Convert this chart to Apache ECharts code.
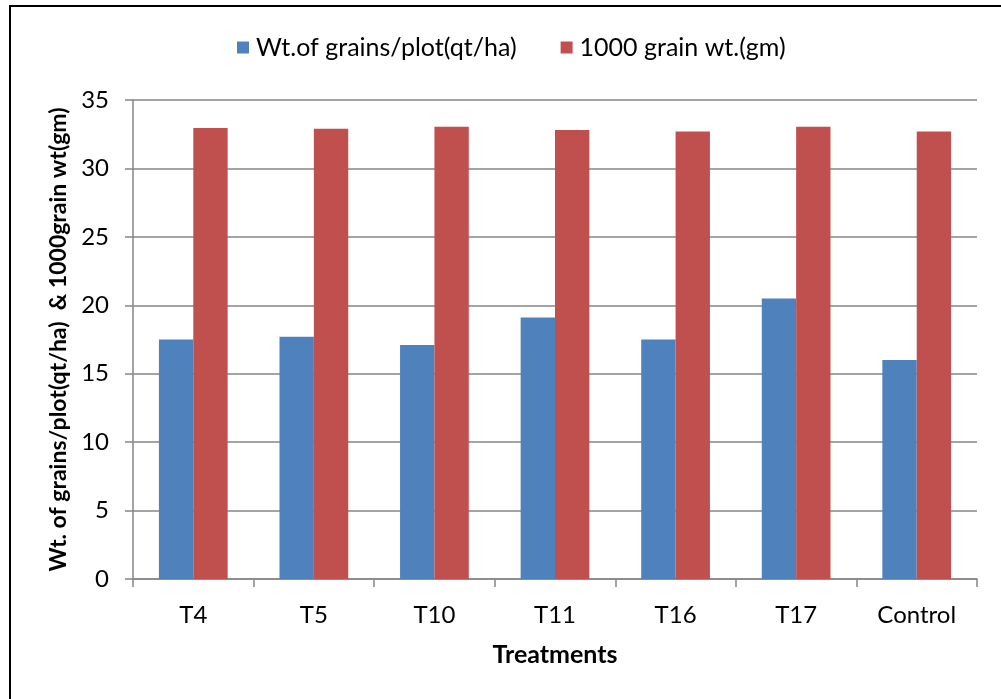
<!DOCTYPE html>
<html>
<head>
<meta charset="utf-8">
<script src="https://cdn.jsdelivr.net/npm/echarts@6/dist/echarts.min.js"></script>
<style>
html,body{margin:0;padding:0;background:#fff;}
#chart{width:1001px;height:699px;}
</style>
</head>
<body>
<div id="chart"></div>
<script>
var categories = ['T4', 'T5', 'T10', 'T11', 'T16', 'T17', 'Control'];
var grainWeightPlot = [17.5, 17.7, 17.1, 19.1, 17.5, 20.5, 16.0];
var thousandGrainWt = [32.95, 32.9, 33.05, 32.8, 32.7, 33.05, 32.7];
var seriesNames = ['Wt.of grains/plot(qt/ha)', '1000 grain wt.(gm)'];
var yTicks = {min: 0, max: 35, interval: 5};

var FONT = 'Lato';
var chart = echarts.init(document.getElementById('chart'), null, {renderer: 'canvas'});
chart.setOption({
  animation: false,
  backgroundColor: '#fff',
  textStyle: {fontFamily: FONT},
  graphic: [{
    type: 'rect',
    shape: {x: 10, y: 6, width: 1100, height: 800},
    style: {fill: 'none', stroke: '#000', lineWidth: 2},
    silent: true
  }],
  legend: {
    top: 30,
    left: 232,
    itemWidth: 12,
    itemHeight: 12,
    itemGap: 44,
    icon: 'rect',
    textStyle: {fontFamily: FONT, fontSize: 25, color: '#000', padding: [0, 0, 0, 2]},
    data: seriesNames
  },
  grid: {left: 133, right: 24, top: 100, bottom: 120, containLabel: false},
  xAxis: {
    type: 'category',
    data: categories,
    name: 'Treatments',
    nameLocation: 'middle',
    nameGap: 63,
    nameTextStyle: {fontFamily: FONT, fontSize: 25, fontWeight: 'bold', color: '#000', verticalAlign: 'top'},
    axisLine: {lineStyle: {color: '#868686', width: 1.5}},
    axisTick: {show: true, length: 8, lineStyle: {color: '#868686', width: 1.5}},
    axisLabel: {fontFamily: FONT, fontSize: 24, color: '#000', margin: 24},
    splitLine: {show: false}
  },
  yAxis: {
    type: 'value',
    min: yTicks.min,
    max: yTicks.max,
    interval: yTicks.interval,
    name: 'Wt. of grains/plot(qt/ha)  & 1000grain wt(gm)',
    nameLocation: 'middle',
    nameGap: 60,
    nameTextStyle: {fontFamily: FONT, fontSize: 23, fontWeight: 'bold', color: '#000'},
    axisLine: {show: true, lineStyle: {color: '#868686', width: 1.5}},
    axisTick: {show: true, length: 8, lineStyle: {color: '#868686', width: 1.5}},
    axisLabel: {fontFamily: FONT, fontSize: 24, color: '#000', margin: 24},
    splitLine: {show: true, lineStyle: {color: '#868686', width: 1.5}}
  },
  series: [{
    name: seriesNames[0],
    type: 'bar',
    data: grainWeightPlot,
    itemStyle: {color: '#4F81BD'},
    barGap: '0%',
    barCategoryGap: '43%'
  }, {
    name: seriesNames[1],
    type: 'bar',
    data: thousandGrainWt,
    itemStyle: {color: '#C0504D'},
    barGap: '0%',
    barCategoryGap: '43%'
  }]
});
</script>
</body>
</html>
